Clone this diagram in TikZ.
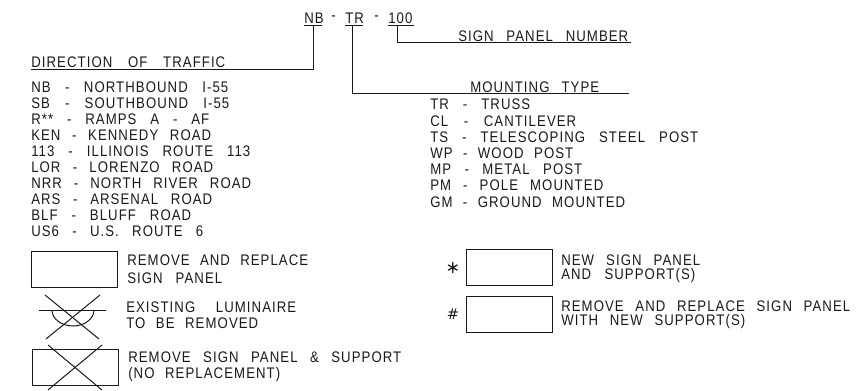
\documentclass[tikz,border=0pt]{standalone}
\usepackage{fontspec}
\setmainfont{Liberation Sans}[FakeStretch=0.86,LetterSpace=7,WordSpace=2]
\newfontfamily\symfont{DejaVu Sans}
\newcommand\fitline[2]{\hbox to \dimexpr#1pt*3/4\relax{\spaceskip=.3em plus 1fil minus 1fil\relax #2}}
\tikzset{
  txt/.style={anchor=west,inner sep=0pt,font=\fontsize{11.5pt}{12pt}\selectfont,text=black!90},
  sym/.style={anchor=center,inner sep=0pt,text=black!90},
  ln/.style={line width=0.75pt,black!90},
  panel/.style={draw=black!90,line width=0.75pt,minimum width=0pt,inner sep=0pt}
}
\begin{document}
\begin{tikzpicture}[x=0.75pt,y=-0.75pt]
\useasboundingbox (0,0) rectangle (866,391);
% code
\node[txt] (nb) at (304,18) {NB};
\node[txt] (dash1) at (331,18) {-};
\node[txt] (tr) at (345,18) {TR};
\node[txt] (dash2) at (374,18) {-};
\node[txt] (num) at (388,18) {100};
\draw[ln] (304,26) -- (322,26);
\draw[ln] (345,26) -- (363,26);
\draw[ln] (388,26) -- (414,26);
% headings
\node[txt] (hdir) at (31,62) {\fitline{194}{DIRECTION OF TRAFFIC}};
\node[txt] (hnum) at (458,36) {\fitline{170}{SIGN PANEL NUMBER}};
\node[txt] (hmnt) at (470,87) {\fitline{129}{MOUNTING TYPE}};
\coordinate (cdir) at (31,70);
\coordinate (cnb) at (313,26);
\coordinate (ctr) at (352,26);
\coordinate (cnum) at (397,26);
\coordinate (cnumend) at (631,43);
\coordinate (ctrend) at (629,94);
\draw[ln] (cnb) |- (cdir);
\draw[ln] (ctr) |- (ctrend);
\draw[ln] (cnum) |- (cnumend);
% direction list
\node[txt] (d1) at (31,87) {\fitline{197}{NB - NORTHBOUND I-55}};
\node[txt] (d2) at (31,103) {\fitline{198}{SB - SOUTHBOUND I-55}};
\node[txt] (d3) at (31,119) {\fitline{178}{R** - RAMPS A - AF}};
\node[txt] (d4) at (31,135) {\fitline{180}{KEN - KENNEDY ROAD}};
\node[txt] (d5) at (31,151) {\fitline{219}{113 - ILLINOIS ROUTE 113}};
\node[txt] (d6) at (31,167) {\fitline{182}{LOR - LORENZO ROAD}};
\node[txt] (d7) at (31,183) {\fitline{220}{NRR - NORTH RIVER ROAD}};
\node[txt] (d8) at (31,199) {\fitline{181}{ARS - ARSENAL ROAD}};
\node[txt] (d9) at (31,215) {\fitline{160}{BLF - BLUFF ROAD}};
\node[txt] (d10) at (31,231) {\fitline{172}{US6 - U.S. ROUTE 6}};
% mounting list
\node[txt] (m1) at (430,104) {\fitline{100}{TR - TRUSS}};
\node[txt] (m2) at (430,121) {\fitline{146}{CL - CANTILEVER}};
\node[txt] (m3) at (430,137) {\fitline{268}{TS - TELESCOPING STEEL POST}};
\node[txt] (m4) at (430,153) {\fitline{143}{WP - WOOD POST}};
\node[txt] (m5) at (430,169) {\fitline{152}{MP - METAL POST}};
\node[txt] (m6) at (430,185) {\fitline{173}{PM - POLE MOUNTED}};
\node[txt] (m7) at (430,202) {\fitline{195}{GM - GROUND MOUNTED}};
% left legend
\draw[panel] (31,252) rectangle (117,288);
\node[txt] (l1) at (127,260) {\fitline{181}{REMOVE AND REPLACE}};
\node[txt] (l2) at (127,278) {\fitline{95}{SIGN PANEL}};
\draw[ln] (39,310) -- (106,310);
\draw[ln] (52,310) arc[start angle=180,end angle=360,x radius=21,y radius=-16];
\draw[ln] (45,295) -- (99,339);
\draw[ln] (100,295) -- (46,339);
\node[txt] (l3) at (126,307) {\fitline{170}{EXISTING LUMINAIRE}};
\node[txt] (l4) at (126,323) {\fitline{132}{TO BE REMOVED}};
\draw[panel] (32,349) rectangle (118,385);
\draw[ln] (48,345) -- (102,390);
\draw[ln] (102,345) -- (48,390);
\node[txt] (l5) at (128,357) {\fitline{273}{REMOVE SIGN PANEL \& SUPPORT}};
\node[txt] (l6) at (128,375) {\fitline{152}{(NO REPLACEMENT)}};
% right legend
\node[sym,font=\symfont\fontsize{13pt}{14pt}\selectfont] (star) at (453,268) {∗};
\draw[panel] (466,250) rectangle (552,286);
\node[txt] (r1) at (561,260) {\fitline{139}{NEW SIGN PANEL}};
\node[txt] (r2) at (561,276) {\fitline{134}{AND SUPPORT(S)}};
\node[sym,font=\symfont\fontsize{11pt}{12pt}\selectfont] (hash) at (453,314) {\#};
\draw[panel] (466,296) rectangle (552,332);
\node[txt] (r3) at (561,306) {\fitline{289}{REMOVE AND REPLACE SIGN PANEL}};
\node[txt] (r4) at (561,322) {\fitline{184}{WITH NEW SUPPORT(S)}};
\end{tikzpicture}
\end{document}
